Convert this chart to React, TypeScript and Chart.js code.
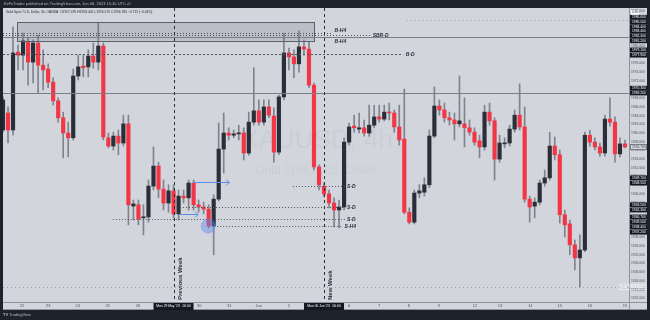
import { useEffect, useRef } from "react";
import { Chart, registerables } from "chart.js";

Chart.register(...registerables);

// ---- Candle data (XAUUSD 4h) ----
const opens = [
  1960.7, 1964.6, 1960.7, 1978.6, 1977.9, 1980.9, 1976.3, 1980.7, 1975.6, 1974.7,
  1971.7, 1967.4, 1963.5, 1960.0, 1958.9, 1973.1, 1975.4, 1975.2, 1977.7, 1976.3,
  1980.0, 1958.9, 1957.0, 1959.3, 1957.7, 1962.1, 1943.2, 1943.5, 1940.5, 1940.7,
  1947.8, 1952.4, 1947.1, 1943.9, 1946.7, 1941.4, 1945.5, 1945.1, 1948.5, 1943.5,
  1943.0, 1942.5, 1938.6, 1944.8, 1956.3, 1960.0, 1959.5, 1959.8, 1960.0, 1955.4,
  1962.5, 1965.1, 1962.5, 1966.0, 1963.9, 1955.6, 1968.3, 1978.4, 1977.5, 1975.9,
  1979.8, 1979.3, 1971.0, 1952.2, 1947.8, 1946.0, 1943.9, 1942.3, 1943.0, 1957.9,
  1961.6, 1960.9, 1961.2, 1960.0, 1961.8, 1963.7, 1963.2, 1964.8, 1964.6, 1961.4,
  1958.6, 1941.8, 1939.5, 1946.2, 1946.4, 1948.1, 1959.3, 1966.2, 1965.3, 1963.5,
  1963.0, 1962.1, 1962.1, 1961.2, 1960.2, 1958.2, 1956.8, 1964.8, 1962.8, 1954.0,
  1957.5, 1957.7, 1960.9, 1964.1, 1961.4, 1944.8, 1943.2, 1944.1, 1948.5, 1949.7,
  1957.0, 1955.0, 1941.2, 1939.1, 1934.3, 1931.3, 1933.1, 1959.5, 1957.9, 1956.8,
  1955.4, 1963.2, 1962.5, 1955.2, 1957.5,
];
const highs = [
  1968.3, 1966.0, 1984.4, 1980.2, 1983.0, 1981.8, 1981.4, 1982.5, 1979.1, 1975.9,
  1972.7, 1968.1, 1964.8, 1962.5, 1974.7, 1977.9, 1977.9, 1979.1, 1980.7, 1985.3,
  1980.7, 1960.0, 1960.2, 1960.7, 1964.1, 1964.1, 1944.6, 1944.6, 1943.5, 1949.2,
  1956.8, 1953.3, 1949.2, 1948.1, 1948.1, 1946.9, 1946.9, 1949.2, 1949.2, 1944.6,
  1944.1, 1943.5, 1945.8, 1962.3, 1964.6, 1961.2, 1960.7, 1961.8, 1961.2, 1964.8,
  1975.0, 1967.6, 1967.6, 1967.6, 1965.8, 1968.7, 1983.0, 1979.5, 1979.1, 1983.5,
  1981.4, 1980.9, 1971.5, 1952.7, 1948.5, 1946.9, 1945.1, 1944.6, 1958.9, 1962.3,
  1964.1, 1964.6, 1963.0, 1966.4, 1966.4, 1966.4, 1966.4, 1966.9, 1965.3, 1966.4,
  1970.1, 1942.8, 1946.9, 1948.1, 1949.7, 1960.7, 1970.6, 1967.6, 1966.9, 1964.8,
  1964.6, 1973.1, 1968.1, 1963.0, 1961.2, 1959.5, 1966.4, 1966.9, 1963.5, 1959.5,
  1958.9, 1961.8, 1965.3, 1971.3, 1966.0, 1945.5, 1945.1, 1949.2, 1951.5, 1960.2,
  1959.1, 1956.1, 1942.3, 1940.0, 1935.4, 1936.6, 1960.2, 1960.7, 1958.9, 1957.7,
  1964.1, 1968.1, 1963.7, 1958.9, 1958.4,
];
const lows = [
  1960.2, 1957.7, 1959.5, 1974.5, 1974.5, 1971.0, 1971.5, 1969.2, 1969.9, 1970.4,
  1966.4, 1962.5, 1954.3, 1954.5, 1958.4, 1972.2, 1972.9, 1972.9, 1974.9, 1974.5,
  1958.4, 1956.6, 1956.1, 1955.0, 1957.0, 1938.9, 1940.0, 1938.9, 1936.6, 1939.5,
  1946.9, 1945.1, 1942.3, 1941.8, 1940.5, 1940.0, 1943.9, 1942.3, 1942.3, 1941.8,
  1941.4, 1938.2, 1932.0, 1944.4, 1950.8, 1958.4, 1958.9, 1958.4, 1953.8, 1954.9,
  1961.8, 1961.8, 1961.8, 1963.5, 1953.3, 1955.0, 1967.6, 1974.5, 1972.7, 1974.0,
  1977.9, 1970.4, 1951.5, 1946.9, 1945.3, 1942.8, 1938.4, 1938.2, 1942.3, 1957.2,
  1960.2, 1960.0, 1959.3, 1959.3, 1961.2, 1962.5, 1962.8, 1963.0, 1960.2, 1957.2,
  1941.4, 1939.1, 1939.1, 1945.1, 1945.5, 1947.4, 1958.9, 1964.1, 1962.5, 1961.8,
  1958.4, 1961.4, 1956.8, 1959.5, 1957.2, 1954.3, 1956.1, 1961.8, 1949.2, 1953.3,
  1956.6, 1957.0, 1960.2, 1960.7, 1944.1, 1939.5, 1940.5, 1943.5, 1947.8, 1949.2,
  1953.8, 1939.3, 1936.1, 1932.0, 1928.5, 1924.6, 1932.7, 1957.0, 1956.1, 1954.7,
  1954.7, 1961.6, 1953.3, 1954.5, 1956.6,
];
const closes = [
  1967.6, 1960.7, 1978.4, 1977.9, 1981.2, 1976.3, 1980.7, 1975.6, 1974.5, 1971.7,
  1967.4, 1963.5, 1960.0, 1958.9, 1973.1, 1975.2, 1975.0, 1977.7, 1976.3, 1980.0,
  1959.1, 1957.0, 1959.3, 1957.7, 1962.1, 1943.5, 1943.7, 1940.2, 1940.7, 1947.8,
  1952.4, 1947.1, 1943.9, 1946.7, 1941.4, 1945.5, 1945.1, 1948.5, 1943.5, 1943.0,
  1942.5, 1938.6, 1944.8, 1956.3, 1960.0, 1959.5, 1959.8, 1960.0, 1955.4, 1962.5,
  1965.1, 1962.5, 1966.0, 1964.1, 1955.6, 1968.3, 1978.4, 1977.5, 1975.9, 1979.8,
  1979.3, 1971.0, 1952.2, 1948.1, 1946.0, 1943.9, 1942.3, 1943.0, 1957.9, 1961.4,
  1961.2, 1961.2, 1960.0, 1961.8, 1963.7, 1963.2, 1964.8, 1964.6, 1961.4, 1958.4,
  1941.8, 1939.5, 1946.2, 1946.7, 1948.1, 1959.3, 1966.2, 1965.3, 1963.5, 1963.0,
  1962.1, 1962.8, 1961.2, 1960.2, 1957.9, 1956.8, 1964.8, 1962.8, 1954.0, 1957.7,
  1957.7, 1960.9, 1964.1, 1961.4, 1944.8, 1943.0, 1944.1, 1948.5, 1949.7, 1957.0,
  1955.0, 1941.2, 1938.9, 1934.3, 1931.3, 1933.1, 1959.5, 1957.9, 1956.8, 1955.4,
  1963.2, 1962.5, 1955.2, 1957.5, 1956.8,
];

// ---- Time axis ----
const dayTickIdx = [3.8, 9.0, 14.9, 20.9, 26.9, 39.1, 45.1, 51.0, 57.0, 69.0, 75.0, 80.9, 86.9, 94.1, 99.1, 105.1, 111.0, 117.0, 124.0];
const dayTickLabels = ["22", "23", "24", "25", "26", "30", "31", "Jun", "2", "6", "7", "8", "9", "12", "13", "14", "15", "16", "19"];
const weekIdx = [34, 64];
const weekNames = ["Previous Week", "New Week"];
const weekStamps = ["Mon 29 May '23   00:00", "Mon 05 Jun '23   00:00"];

// ---- Price axis ----
const priceMin = 1921.15;
const priceMax = 1988.74;
const priceStep = 2;
const axisBoxPrices = [1986.6, 1985.5, 1984.4, 1983.4, 1982.3, 1981.2, 1979.1, 1977.9, 1970.3, 1969.2, 1949.7, 1948.5, 1943.5, 1942.3, 1940.7, 1939.5, 1938.4, 1937.2];
const lastPrice = 1956.78;
const lowPrice = 1924.55;

// ---- Drawings ----
const zoneTop = 1985.5;
const zoneBottom = 1981.2;
const zoneFrom = 2.8;
const zoneTo = 62.1;
const levelPrices = [1985.9, 1983.0, 1982.5, 1982.1, 1978.2, 1969.2, 1947.8, 1943.0, 1940.2, 1938.6, 1924.6];
const levelFrom = [80.5, 0, 0, 0, 0, 0, 57.8, 35.3, 21.9, 42.7, 0];
const levelTo = [124.8, 65.6, 73.3, 124.8, 79.8, 124.8, 68.2, 68.2, 68.2, 67.4, 124.8];
const levelStyles = ["light", "dot", "dot", "solid", "dash", "solid", "dot", "dot", "dot", "dot", "light"];
const levelNames = ["", "B-H4", "SBR-D", "B-H4", "B-D", "", "S-D", "S-D", "S-D", "S-H4", ""];
const levelLabelAt = [0, 65.9, 73.5, 65.9, 80.1, 0, 68.4, 68.4, 68.4, 67.9, 0];
const levelLabelDy = [0, -3, 0, 4, 0, 0, 0, 0, 0, 0, 0];
const arrowFrom = [37.9, 35.3];
const arrowTo = [45.1, 38.9];
const arrowPrices = [1948.7, 1941.4];
const circleIdx = 40.9;
const circlePrice = 1938.6;

const headerText = "EzFxTrader published on TradingView.com, Jun 06, 2023 15:40 UTC+0";
const legendText = "Gold Spot / U.S. Dollar, 4h, OANDA  O1957.495 H1958.405 L1956.570 C1956.780 \u22120.715 (\u22120.04%)";

const BG = "#d2d5dc";
const FRAME = "#1e222d";
const RED = "#f23645";
const DARK = "#2a2e39";
const WICK = "#80838d";
const FONT = '"Liberation Sans", Arial, sans-serif';

export default function App() {
  const ref = useRef<HTMLCanvasElement>(null);

  useEffect(() => {
    const canvas = ref.current;
    if (!canvas) return;
    const idx = opens.map((_, i) => i);
    const bodies = idx.map((i) => ({ x: i, y: [opens[i], closes[i]] }));
    const wicks = idx.map((i) => ({ x: i, y: [lows[i], highs[i]] }));
    const colors = idx.map((i) => (closes[i] >= opens[i] ? DARK : RED));

    const plugin = {
      id: "tvdecor",
      beforeDraw(chart: any) {
        const ctx = chart.ctx as CanvasRenderingContext2D;
        ctx.save();
        ctx.fillStyle = FRAME;
        ctx.fillRect(0, 0, 650, 320);
        ctx.fillStyle = BG;
        ctx.fillRect(3, 8, 644, 302);
        ctx.fillStyle = "#b2b5be";
        ctx.font = `4px ${FONT}`;
        ctx.textBaseline = "middle";
        ctx.textAlign = "left";
        ctx.fillText(headerText, 4, 4);
        ctx.font = `bold 4px ${FONT}`;
        ctx.fillText("TV", 3, 315);
        ctx.font = `4px ${FONT}`;
        ctx.fillText("TradingView", 9, 315);
        ctx.restore();
      },
      beforeDatasetsDraw(chart: any) {
        const ctx = chart.ctx as CanvasRenderingContext2D;
        ctx.save();
        ctx.fillStyle = "rgba(150,153,162,0.12)";
        ctx.textAlign = "center";
        ctx.textBaseline = "middle";
        ctx.font = `26px ${FONT}`;
        ctx.fillText("XAUUSD, 4h", 317, 141);
        ctx.font = `12px ${FONT}`;
        ctx.fillText("Gold Spot / U.S. Dollar", 316, 171);
        ctx.fillStyle = "#2a2e39";
        ctx.textAlign = "left";
        ctx.font = `3.3px ${FONT}`;
        ctx.fillText(legendText, 6, 12);
        ctx.restore();
      },
      afterDatasetsDraw(chart: any) {
        const ctx = chart.ctx as CanvasRenderingContext2D;
        const xs = chart.scales.x;
        const ys = chart.scales.y;
        const ca = chart.chartArea;
        const X = (v: number) => xs.getPixelForValue(v);
        const Y = (v: number) => ys.getPixelForValue(v);
        ctx.save();
        ctx.beginPath();
        ctx.rect(ca.left, ca.top, ca.right - ca.left, ca.bottom - ca.top);
        ctx.clip();

        // zone rectangle
        const zx1 = X(zoneFrom), zx2 = X(zoneTo), zy1 = Y(zoneTop), zy2 = Y(zoneBottom);
        ctx.fillStyle = "rgba(95,99,110,0.2)";
        ctx.fillRect(zx1, zy1, zx2 - zx1, zy2 - zy1);
        ctx.strokeStyle = "#5d606b";
        ctx.lineWidth = 1;
        ctx.strokeRect(Math.round(zx1) + 0.5, Math.round(zy1) + 0.5, Math.round(zx2 - zx1), Math.round(zy2 - zy1));

        // horizontal levels
        levelPrices.forEach((p, k) => {
          const y = Math.round(Y(p)) + 0.5;
          const st = levelStyles[k];
          ctx.beginPath();
          if (st === "solid") {
            ctx.setLineDash([]);
            ctx.strokeStyle = "#7b7e87";
            ctx.lineWidth = 1.2;
          } else if (st === "dash") {
            ctx.setLineDash([2, 2]);
            ctx.strokeStyle = "#50535e";
            ctx.lineWidth = 1;
          } else if (st === "dot") {
            ctx.setLineDash([1, 2]);
            ctx.strokeStyle = "#50535e";
            ctx.lineWidth = 1;
          } else {
            ctx.setLineDash([1, 3]);
            ctx.strokeStyle = "#9da0a8";
            ctx.lineWidth = 1;
          }
          ctx.moveTo(X(levelFrom[k]), y);
          ctx.lineTo(X(levelTo[k]), y);
          ctx.stroke();
          if (levelNames[k]) {
            ctx.setLineDash([]);
            ctx.fillStyle = "#2a2e39";
            ctx.font = `italic bold 5px ${FONT}`;
            ctx.textAlign = "left";
            ctx.textBaseline = "middle";
            ctx.fillText(levelNames[k], X(levelLabelAt[k]) + 1, y + levelLabelDy[k]);
          }
        });
        ctx.setLineDash([]);

        // week separators
        weekIdx.forEach((w, k) => {
          const x = Math.round(X(w)) + 0.5;
          ctx.beginPath();
          ctx.setLineDash([3, 3]);
          ctx.strokeStyle = "#2a2e39";
          ctx.lineWidth = 1;
          ctx.moveTo(x, ca.top);
          ctx.lineTo(x, ca.bottom);
          ctx.stroke();
          ctx.setLineDash([]);
          ctx.save();
          ctx.translate(x + 6, ca.bottom - 2);
          ctx.rotate(-Math.PI / 2);
          ctx.fillStyle = "#2a2e39";
          ctx.font = `bold 6px ${FONT}`;
          ctx.textAlign = "left";
          ctx.textBaseline = "middle";
          ctx.fillText(weekNames[k], 0, 0);
          ctx.restore();
        });

        // circle
        ctx.beginPath();
        ctx.arc(X(circleIdx), Y(circlePrice), 7, 0, Math.PI * 2);
        ctx.fillStyle = "rgba(98,140,232,0.45)";
        ctx.fill();
        ctx.setLineDash([1, 1]);
        ctx.strokeStyle = "rgba(98,140,232,0.8)";
        ctx.stroke();
        ctx.setLineDash([]);

        // arrows
        arrowPrices.forEach((p, k) => {
          const y = Math.round(Y(p)) + 0.5;
          const x1 = X(arrowFrom[k]);
          const x2 = X(arrowTo[k]);
          ctx.beginPath();
          ctx.strokeStyle = "#5b8de6";
          ctx.lineWidth = 1;
          ctx.moveTo(x1, y);
          ctx.lineTo(x2, y);
          ctx.moveTo(x2 - 3, y - 3);
          ctx.lineTo(x2, y);
          ctx.lineTo(x2 - 3, y + 3);
          ctx.stroke();
        });
        ctx.restore();
      },
      afterDraw(chart: any) {
        const ctx = chart.ctx as CanvasRenderingContext2D;
        const xs = chart.scales.x;
        const ys = chart.scales.y;
        const ca = chart.chartArea;
        const X = (v: number) => xs.getPixelForValue(v);
        const Y = (v: number) => ys.getPixelForValue(v);
        ctx.save();
        // borders
        ctx.strokeStyle = "#8f929b";
        ctx.lineWidth = 1;
        ctx.beginPath();
        ctx.moveTo(ca.right + 0.5, 8);
        ctx.lineTo(ca.right + 0.5, 310);
        ctx.moveTo(3, ca.bottom + 0.5);
        ctx.lineTo(647, ca.bottom + 0.5);
        ctx.moveTo(3, 309.5);
        ctx.lineTo(647, 309.5);
        ctx.stroke();

        ctx.font = `3.3px ${FONT}`;
        ctx.textBaseline = "middle";
        ctx.textAlign = "left";
        // dark price boxes
        axisBoxPrices.forEach((p) => {
          const y = Y(p);
          ctx.fillStyle = "#131722";
          ctx.fillRect(ca.right + 1, y - 2.4, 17, 4.8);
          ctx.fillStyle = "#ffffff";
          ctx.fillText(p.toFixed(3), ca.right + 3, y);
        });
        // currency box
        ctx.fillStyle = "#ffffff";
        ctx.fillRect(ca.right + 2, 10, 8, 4.5);
        ctx.fillStyle = "#2a2e39";
        ctx.fillText("USD", ca.right + 3, 12.3);
        // last price box
        const ly = Y(lastPrice);
        ctx.fillStyle = BG;
        ctx.fillRect(ca.right + 1, ly - 3, 17, 6);
        ctx.strokeStyle = "#787b86";
        ctx.strokeRect(ca.right + 1.5, ly - 2.5, 16, 5);
        ctx.fillStyle = "#50535e";
        ctx.fillText(lastPrice.toFixed(3), ca.right + 3, ly);
        // low price box
        const lo = Y(lowPrice);
        ctx.setLineDash([1, 1]);
        ctx.strokeStyle = "#ffffff";
        ctx.strokeRect(ca.right - 9.5, lo - 2.5, 26, 5);
        ctx.setLineDash([]);
        ctx.fillStyle = "#ffffff";
        ctx.fillText("Low  " + lowPrice.toFixed(3), ca.right - 8, lo);

        // week time stamps
        weekIdx.forEach((w, k) => {
          const x = X(w);
          ctx.fillStyle = "#131722";
          ctx.fillRect(x - 20, ca.bottom + 1, 40, 7);
          ctx.fillStyle = "#ffffff";
          ctx.textAlign = "center";
          ctx.font = `3.3px ${FONT}`;
          ctx.fillText(weekStamps[k], x, ca.bottom + 4.5);
        });
        ctx.restore();
      },
    };

    const chart = new Chart(canvas, {
      type: "bar",
      data: {
        datasets: [
          {
            label: "body",
            data: bodies as any,
            backgroundColor: colors,
            barThickness: 3.5,
            minBarLength: 1,
            grouped: false,
          } as any,
          {
            label: "wick",
            data: wicks as any,
            backgroundColor: WICK,
            barThickness: 1,
            grouped: false,
          } as any,
        ],
      },
      options: {
        animation: false,
        responsive: false,
        devicePixelRatio: 1,
        layout: { padding: { left: 3, top: 8, right: 3, bottom: 10 } },
        plugins: { legend: { display: false }, tooltip: { enabled: false } },
        scales: {
          x: {
            type: "linear",
            offset: false,
            min: 0,
            max: 124.8,
            grid: { display: false, drawTicks: false, offset: false },
            border: { display: false },
            afterBuildTicks: (axis: any) => {
              axis.ticks = dayTickIdx.map((v) => ({ value: v }));
            },
            afterFit: (axis: any) => {
              axis.height = 8;
            },
            ticks: {
              autoSkip: false,
              maxRotation: 0,
              padding: 1,
              color: "#50535e",
              font: { size: 4, family: FONT },
              callback: (_v: any, i: number) => dayTickLabels[i] ?? "",
            },
          },
          y: {
            type: "linear",
            position: "right",
            min: priceMin,
            max: priceMax,
            grid: { display: false, drawTicks: false },
            border: { display: false },
            afterFit: (axis: any) => {
              axis.width = 18;
            },
            ticks: {
              stepSize: priceStep,
              includeBounds: false,
              autoSkip: false,
              padding: 2,
              color: "#50535e",
              font: { size: 3.3, family: FONT },
              callback: (v: any) => Number(v).toFixed(3),
            },
          },
        },
      },
      plugins: [plugin],
    } as any);

    return () => chart.destroy();
  }, []);

  return (
    <div style={{ position: "fixed", left: 0, top: 0, width: 650, height: 320 }}>
      <canvas ref={ref} width={650} height={320} style={{ display: "block", width: 650, height: 320 }} />
    </div>
  );
}
